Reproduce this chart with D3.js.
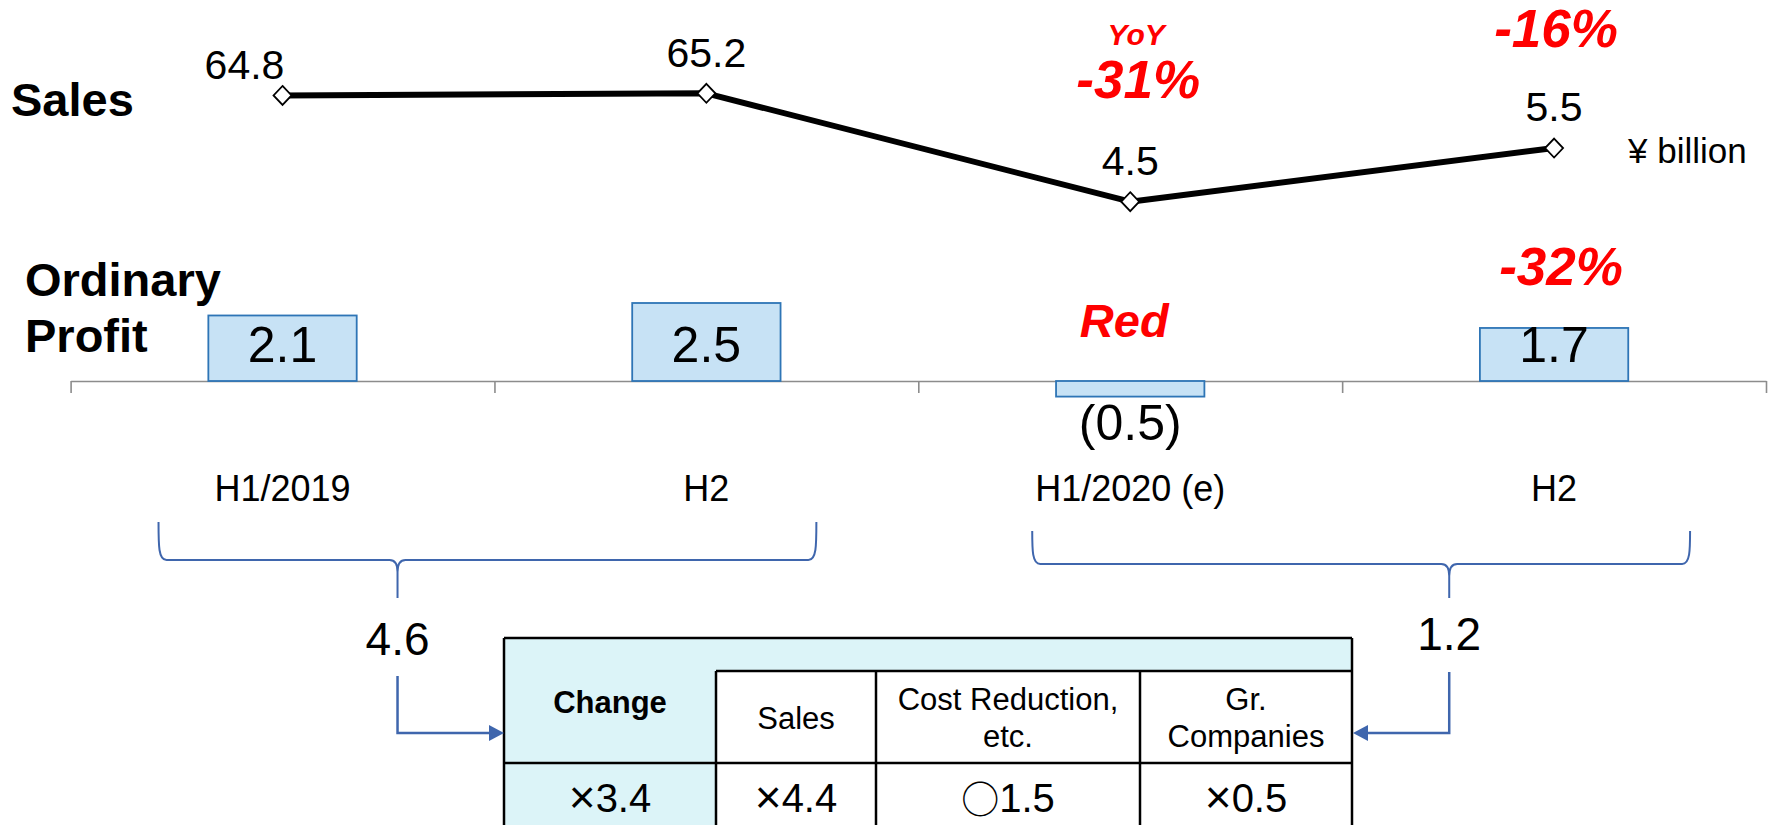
<!DOCTYPE html>
<html><head><meta charset="utf-8">
<script src="https://cdn.jsdelivr.net/npm/d3@7"></script>
<style>body{margin:0;background:#fff}svg{display:block}</style>
</head><body>
<script>
// ---- data ----
const categories = ["H1/2019", "H2", "H1/2020 (e)", "H2"];
const catKeys = ["c0", "c1", "c2", "c3"];
const salesValues = [6.48, 6.52, 4.5, 5.5];          // plotted level
const salesLabels = ["64.8", "65.2", "4.5", "5.5"];  // printed labels
const profitValues = [2.1, 2.5, -0.5, 1.7];
const profitLabels = ["2.1", "2.5", "(0.5)", "1.7"];
const salesYoY = [null, null, "-31%", "-16%"];
const profitYoY = [null, null, "Red", "-32%"];
const periodTotals = ["4.6", "1.2"];
const tableHeaders = [["Change"], ["Sales"], ["Cost Reduction,", "etc."], ["Gr.", "Companies"]];
const tableMarks = ["×", "×", "○", "×"];
const tableValues = ["3.4", "4.4", "1.5", "0.5"];

// ---- layout ----
const W = 1769, H = 825;
const FONT = "'Liberation Sans', Arial, sans-serif";
const svg = d3.select("body").append("svg").attr("width", W).attr("height", H);
svg.append("rect").attr("width", W).attr("height", H).attr("fill", "#fff");

const x = d3.scaleBand().domain(catKeys).range([70.6, 1766]).padding(0);
const cx = i => x(catKeys[i]) + x.bandwidth() / 2;
const xEdge = d3.scaleLinear().domain([0, 4]).range([70.6, 1766]);
const yS = d3.scaleLinear().domain([4.5, 6.52]).range([201.7, 93.3]);
const yB = d3.scaleLinear().domain([0, 2.5]).range([381, 303]);
const barW = x.bandwidth() * 0.35;

// row titles
svg.append("text").attr("x", 11).attr("y", 116).text("Sales")
  .attr("font-family", FONT).attr("font-weight", "bold").attr("font-size", 47);
svg.append("text").attr("x", 25).attr("y", 296).text("Ordinary")
  .attr("font-family", FONT).attr("font-weight", "bold").attr("font-size", 47);
svg.append("text").attr("x", 25).attr("y", 352).text("Profit")
  .attr("font-family", FONT).attr("font-weight", "bold").attr("font-size", 47);

// axis
const axis = svg.append("g").attr("transform", "translate(0,381)")
  .call(d3.axisBottom(xEdge).tickValues([0, 1, 2, 3, 4]).tickFormat("").tickSize(12).tickSizeOuter(0));
axis.select(".domain").attr("stroke", "#8c8c8c").attr("stroke-width", 1.6);
axis.selectAll(".tick line").attr("stroke", "#8c8c8c").attr("stroke-width", 1.6);

// bars
svg.selectAll("rect.bar").data(profitValues).join("rect").attr("class", "bar")
  .attr("x", (d, i) => cx(i) - barW / 2).attr("width", barW)
  .attr("y", d => Math.min(yB(d), yB(0))).attr("height", d => Math.abs(yB(d) - yB(0)))
  .attr("fill", "#c7e2f5").attr("stroke", "#2e75b6").attr("stroke-width", 1.8);
svg.selectAll("text.blab").data(profitValues).join("text").attr("class", "blab")
  .attr("x", (d, i) => cx(i)).attr("y", d => d >= 0 ? 362 : 440)
  .attr("text-anchor", "middle").attr("font-family", FONT).attr("font-size", 50)
  .text((d, i) => profitLabels[i]);

// sales line
const pts = salesValues.map((v, i) => [cx(i), yS(v)]);
svg.append("path").attr("d", d3.line()(pts)).attr("fill", "none")
  .attr("stroke", "#000").attr("stroke-width", 6).attr("stroke-linejoin", "round");
svg.selectAll("path.mk").data(pts).join("path").attr("class", "mk")
  .attr("transform", d => `translate(${d[0]},${d[1]})`)
  .attr("d", "M0,-9.5L9,0L0,9.5L-9,0Z").attr("fill", "#fff").attr("stroke", "#000").attr("stroke-width", 1.8);
const labOff = [[-38, -16], [0, -26], [0, -27], [0, -27]];
svg.selectAll("text.slab").data(pts).join("text").attr("class", "slab")
  .attr("x", (d, i) => d[0] + labOff[i][0]).attr("y", (d, i) => d[1] + labOff[i][1])
  .attr("text-anchor", "middle").attr("font-family", FONT).attr("font-size", 41)
  .text((d, i) => salesLabels[i]);
svg.append("text").attr("x", 1628).attr("y", 163).text("¥ billion")
  .attr("font-family", FONT).attr("font-size", 35);

// red annotations
const red = "#ff0000";
function redText(t, xx, yy, fs) {
  svg.append("text").attr("x", xx).attr("y", yy).text(t).attr("text-anchor", "middle")
    .attr("font-family", FONT).attr("font-weight", "bold").attr("font-style", "italic")
    .attr("font-size", fs).attr("fill", red);
}
redText("YoY", cx(2) + 6, 45, 30);
redText(salesYoY[2], cx(2) + 8, 98, 53);
redText(salesYoY[3], cx(3) + 2, 47, 53);
redText(profitYoY[3], cx(3) + 7, 285, 53);
redText(profitYoY[2], cx(2) - 6, 337, 47);

// category labels
svg.selectAll("text.cat").data(categories).join("text").attr("class", "cat")
  .attr("x", (d, i) => cx(i)).attr("y", 501).attr("text-anchor", "middle")
  .attr("font-family", FONT).attr("font-size", 36).text(d => d);

// braces
const blue = "#3f66ad";
function brace(x0, x1, xc, yt, yh, yb) {
  const r = 8;
  const p = `M${x0},${yt} C${x0},${yh - 14} ${x0},${yh} ${x0 + r},${yh} L${xc - r},${yh} Q${xc},${yh} ${xc},${yh + r + 4} L${xc},${yb}
    M${xc},${yh + r + 4} Q${xc},${yh} ${xc + r},${yh} L${x1 - r},${yh} C${x1},${yh} ${x1},${yh - 14} ${x1},${yt}`;
  svg.append("path").attr("d", p).attr("fill", "none").attr("stroke", blue).attr("stroke-width", 2);
}
brace(cx(0) - 124, cx(1) + 110, cx(0) + 115, 522, 560, 598);
brace(cx(2) - 98, cx(3) + 136, cx(2) + 319, 531, 564, 598);

svg.append("text").attr("x", cx(0) + 115).attr("y", 655).attr("text-anchor", "middle")
  .attr("font-family", FONT).attr("font-size", 46).text(periodTotals[0]);
svg.append("text").attr("x", cx(2) + 319).attr("y", 650).attr("text-anchor", "middle")
  .attr("font-family", FONT).attr("font-size", 46).text(periodTotals[1]);

// table
const colX = [504, 716, 876, 1140, 1352];
const rowY = [638, 671, 763, 860];
const cyan = "#dcf4f8";
svg.append("rect").attr("x", colX[0]).attr("y", rowY[0]).attr("width", colX[4] - colX[0]).attr("height", rowY[1] - rowY[0]).attr("fill", cyan);
svg.append("rect").attr("x", colX[0]).attr("y", rowY[0]).attr("width", colX[1] - colX[0]).attr("height", rowY[3] - rowY[0]).attr("fill", cyan);
const lineAttr = s => s.attr("stroke", "#000").attr("stroke-width", 2.5);
lineAttr(svg.append("line").attr("x1", colX[0]).attr("x2", colX[4]).attr("y1", rowY[0]).attr("y2", rowY[0]));
lineAttr(svg.append("line").attr("x1", colX[1]).attr("x2", colX[4]).attr("y1", rowY[1]).attr("y2", rowY[1]));
lineAttr(svg.append("line").attr("x1", colX[0]).attr("x2", colX[4]).attr("y1", rowY[2]).attr("y2", rowY[2]));
lineAttr(svg.append("line").attr("x1", colX[0]).attr("x2", colX[0]).attr("y1", rowY[0]).attr("y2", rowY[3]));
lineAttr(svg.append("line").attr("x1", colX[4]).attr("x2", colX[4]).attr("y1", rowY[0]).attr("y2", rowY[3]));
[1, 2, 3].forEach(k => lineAttr(svg.append("line").attr("x1", colX[k]).attr("x2", colX[k]).attr("y1", rowY[1]).attr("y2", rowY[3])));

const colC = k => (colX[k] + colX[k + 1]) / 2;
tableHeaders.forEach((lines, k) => {
  const ys = k === 0 ? [713] : lines.length === 1 ? [729] : [710, 747];
  lines.forEach((t, j) => {
    svg.append("text").attr("x", colC(k)).attr("y", ys[j]).attr("text-anchor", "middle")
      .attr("font-family", FONT).attr("font-size", 31).attr("font-weight", k === 0 ? "bold" : "normal").text(t);
  });
});
tableValues.forEach((v, k) => {
  const t = svg.append("text").attr("x", colC(k)).attr("y", 812).attr("text-anchor", "middle")
    .attr("font-family", FONT).attr("font-size", 40);
  if (tableMarks[k] === "○") {
    t.append("tspan").attr("font-family", "'Noto Sans CJK JP'").attr("font-size", 38).attr("dy", 1).text(tableMarks[k]);
    t.append("tspan").attr("dy", -1).text(v);
  } else {
    t.append("tspan").attr("font-size", 46).attr("dy", 1).text(tableMarks[k]);
    t.append("tspan").attr("dy", -1).text(v);
  }
});

// arrows
function arrow(pts, color) {
  svg.append("path").attr("d", d3.line()(pts)).attr("fill", "none").attr("stroke", color).attr("stroke-width", 2.5);
}
const ax0 = cx(0) + 115, ax1 = cx(2) + 319;
arrow([[ax0, 676], [ax0, 733], [colX[0] - 14, 733]], blue);
svg.append("path").attr("d", `M${colX[0]},733 L${colX[0] - 15},725 L${colX[0] - 15},741 Z`).attr("fill", blue);
arrow([[ax1, 672], [ax1, 733], [colX[4] + 14, 733]], blue);
svg.append("path").attr("d", `M${colX[4] + 1},733 L${colX[4] + 16},725 L${colX[4] + 16},741 Z`).attr("fill", blue);
</script>
</body></html>
